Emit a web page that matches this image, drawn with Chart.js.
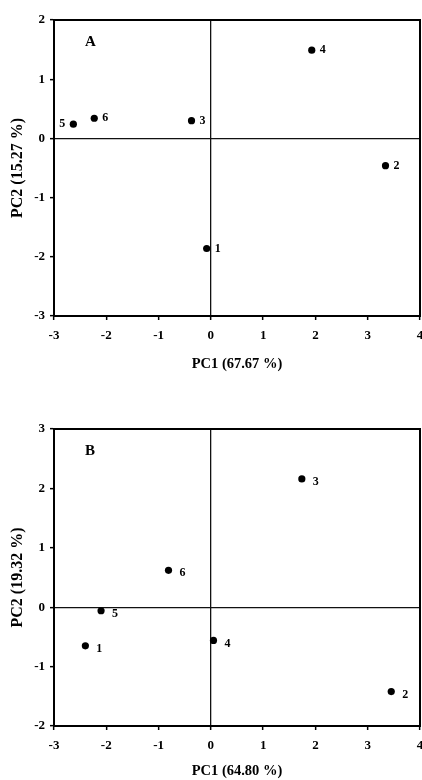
<!DOCTYPE html>
<html>
<head>
<meta charset="utf-8">
<script src="https://cdn.jsdelivr.net/npm/chart.js@4"></script>
<style>
  body { margin: 0; background: #fff; }
  canvas { display: block; }
</style>
</head>
<body>
<canvas id="chartA" width="422" height="380"></canvas>
<canvas id="chartB" width="422" height="400"></canvas>
<script>
const sampleNames = ["1", "2", "3", "4", "5", "6"];

// panel A scores
const pc1A = [-0.08, 3.34, -0.37, 1.93, -2.63, -2.23];
const pc2A = [-1.86, -0.46, 0.30, 1.49, 0.24, 0.34];

// panel B scores
const pc1B = [-2.40, 3.45, 1.74, 0.05, -2.10, -0.81];
const pc2B = [-0.65, -1.42, 2.16, -0.56, -0.06, 0.62];

const xTicks = [-3, -2, -1, 0, 1, 2, 3, 4];
const yTicksA = [-3, -2, -1, 0, 1, 2];
const yTicksB = [-2, -1, 0, 1, 2, 3];

const serif = "'Liberation Serif', 'Times New Roman', serif";

// frame, panel letter and the sample numbers next to each dot
const pcaDecor = {
  id: "pcaDecor",
  afterDatasetsDraw(chart, args, opts) {
    const { ctx, chartArea: a } = chart;
    ctx.save();
    ctx.strokeStyle = "#000";
    ctx.lineWidth = 2;
    ctx.strokeRect(a.left, a.top, a.right - a.left, a.bottom - a.top);

    ctx.fillStyle = "#000";
    ctx.textBaseline = "middle";
    ctx.textAlign = "left";
    ctx.font = "bold 15px " + serif;
    ctx.fillText(opts.panel, a.left + 31, a.top + 22);

    ctx.font = "bold 12px " + serif;
    const meta = chart.getDatasetMeta(0);
    meta.data.forEach((pt, i) => {
      const name = sampleNames[i];
      const onLeft = opts.leftLabels.includes(name);
      ctx.textAlign = onLeft ? "right" : "left";
      ctx.fillText(name, pt.x + (onLeft ? -opts.gap : opts.gap), pt.y + opts.drop);
    });
    ctx.restore();
  },
};

function makeScale(min, max, tickValues, titleText, horizontal, size, titlePad, titleSize) {
  return {
    type: "linear",
    min: min,
    max: max,
    afterBuildTicks: (s) => {
      s.ticks = tickValues.map((v) => ({ value: v }));
    },
    afterFit: (s) => {
      if (horizontal) s.height = size;
      else s.width = size;
      s.paddingLeft = 0;
      s.paddingRight = 0;
      s.paddingTop = 0;
      s.paddingBottom = 0;
    },
    border: { display: true, color: "#000", width: 2 },
    grid: {
      drawOnChartArea: true,
      drawTicks: true,
      tickLength: 4,
      tickWidth: 1.5,
      tickColor: "#000",
      lineWidth: 1.3,
      color: (c) => (c.tick && c.tick.value === 0 ? "#111" : "rgba(0,0,0,0)"),
    },
    ticks: {
      color: "#000",
      padding: horizontal ? 8 : 5,
      maxRotation: 0,
      font: { family: serif, weight: "bold", size: 13 },
    },
    title: {
      display: true,
      text: titleText,
      color: "#000",
      font: { family: serif, weight: "bold", size: titleSize },
      padding: titlePad,
    },
  };
}

function drawPanel(id, xs, ys, yTicks, xTitle, yTitle, topPad, xSize, xTitlePad, labelOpts) {
  const points = xs.map((x, i) => ({ x: x, y: ys[i] }));
  return new Chart(document.getElementById(id), {
    type: "scatter",
    data: {
      datasets: [
        {
          data: points,
          backgroundColor: "#000",
          borderWidth: 0,
          pointRadius: 3.6,
          pointHoverRadius: 3.6,
        },
      ],
    },
    options: {
      responsive: false,
      animation: false,
      layout: { autoPadding: false, padding: { top: topPad, right: 2, left: 0, bottom: 0 } },
      plugins: {
        legend: { display: false },
        tooltip: { enabled: false },
        pcaDecor: labelOpts,
      },
      scales: {
        x: makeScale(-3, 4, xTicks, xTitle, true, xSize, { top: 0, bottom: xTitlePad }, 14.5),
        y: makeScale(yTicks[0], yTicks[yTicks.length - 1], yTicks, yTitle, false, 54, { top: 8, bottom: 0 }, 16),
      },
    },
    plugins: [pcaDecor],
  });
}

drawPanel("chartA", pc1A, pc2A, yTicksA, "PC1 (67.67 %)", "PC2 (15.27 %)", 20, 64, 7,
  { panel: "A", leftLabels: ["5"], gap: 8, drop: 0 });

drawPanel("chartB", pc1B, pc2B, yTicksB, "PC1 (64.80 %)", "PC2 (19.32 %)", 49, 54, 0,
  { panel: "B", leftLabels: [], gap: 11, drop: 3 });
</script>
</body>
</html>
